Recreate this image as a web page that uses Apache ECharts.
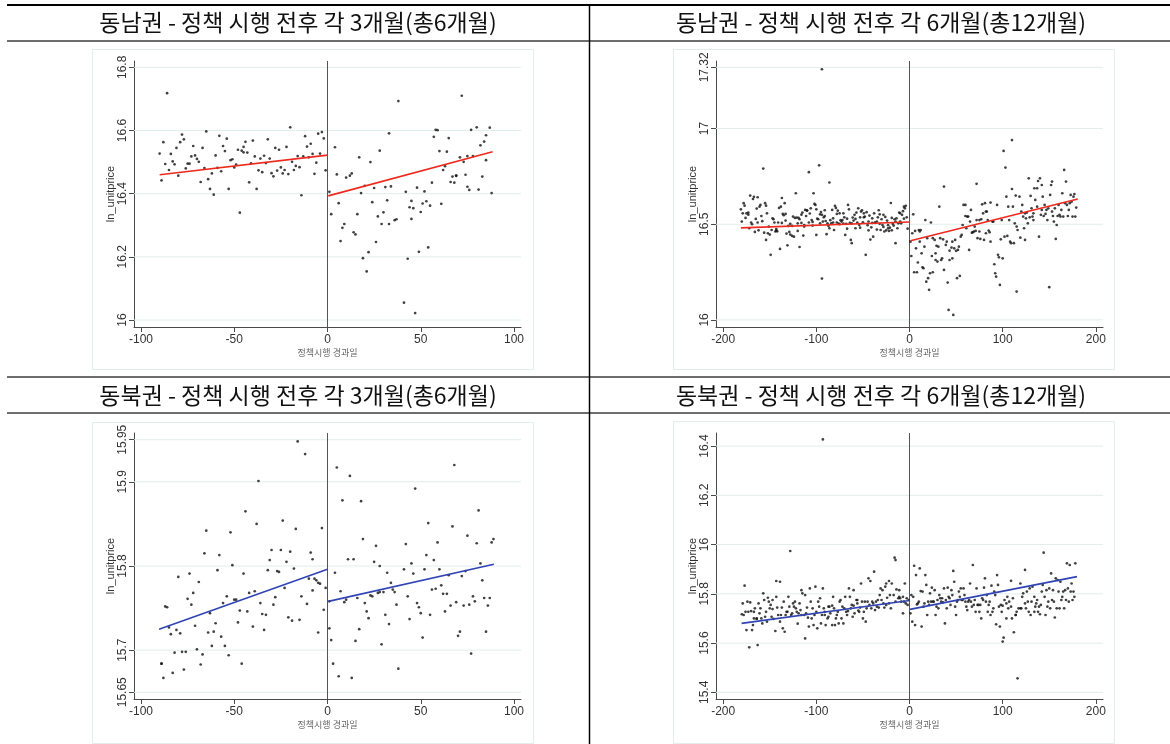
<!DOCTYPE html>
<html><head><meta charset="utf-8">
<script src="https://cdn.jsdelivr.net/npm/echarts@6/dist/echarts.min.js"></script>
<style>html,body{margin:0;padding:0;background:#fff}#c{width:1170px;height:744px}</style>
</head><body><div id="c"></div>
<script>
const panelTitles = ['동남권 - 정책 시행 전후 각 3개월(총6개월)','동남권 - 정책 시행 전후 각 6개월(총12개월)','동북권 - 정책 시행 전후 각 3개월(총6개월)','동북권 - 정책 시행 전후 각 6개월(총12개월)'];
const xAxisName = '정책시행 경과일';
const yAxisName = 'ln_unitprice';
const xTicks3m = [-100,-50,0,50,100];
const xTicks6m = [-200,-100,0,100,200];
const yTicksSE3 = [16,16.2,16.4,16.6,16.8];
const yTicksSE6 = [16,16.5,17,17.32];
const yTicksNE3 = [15.65,15.7,15.8,15.9,15.95];
const yTicksNE6 = [15.4,15.6,15.8,16,16.2,16.4];

const southeast3Pre = [[-90,16.527],[-89,16.442],[-88,16.563],[-87,16.494],[-86,16.718],[-85,16.475],[-84,16.526],[-83,16.502],[-82,16.493],[-81,16.545],[-80,16.457],[-79,16.563],[-78,16.587],[-77,16.572],[-76,16.480],[-75,16.495],[-74,16.495],[-73,16.518],[-72,16.551],[-71,16.521],[-70,16.510],[-69,16.501],[-68,16.437],[-67,16.545],[-66,16.481],[-65,16.597],[-64,16.446],[-63,16.415],[-62,16.464],[-61,16.397],[-60,16.521],[-59,16.482],[-58,16.583],[-57,16.471],[-56,16.551],[-55,16.535],[-54,16.574],[-53,16.415],[-52,16.506],[-51,16.509],[-50,16.483],[-49,16.492],[-48,16.539],[-47,16.340],[-46,16.536],[-45,16.548],[-45,16.531],[-44,16.564],[-43,16.530],[-42,16.436],[-41,16.496],[-40,16.568],[-39,16.518],[-38,16.415],[-37,16.474],[-36,16.511],[-35,16.468],[-34,16.520],[-33,16.497],[-32,16.572],[-31,16.511],[-30,16.465],[-29,16.455],[-28,16.545],[-27,16.473],[-26,16.539],[-25,16.483],[-24,16.464],[-23,16.475],[-22,16.548],[-21,16.462],[-20,16.610],[-19,16.501],[-18,16.475],[-17,16.488],[-16,16.519],[-15,16.484],[-14,16.395],[-13,16.518],[-12,16.582],[-11,16.549],[-10,16.515],[-9,16.558],[-8,16.526],[-7,16.463],[-6,16.498],[-5,16.590],[-4,16.527],[-3,16.595],[-2,16.575],[-1,16.474]];
const southeast3Post = [[1,16.406],[2,16.335],[4,16.547],[5,16.461],[6,16.370],[7,16.250],[8,16.292],[9,16.304],[10,16.451],[12,16.457],[13,16.464],[14,16.278],[15,16.271],[16,16.335],[17,16.515],[18,16.402],[19,16.196],[20,16.425],[21,16.154],[22,16.215],[23,16.500],[24,16.373],[25,16.418],[26,16.247],[27,16.328],[28,16.536],[29,16.304],[30,16.341],[31,16.421],[32,16.379],[33,16.591],[33,16.304],[34,16.423],[36,16.316],[37,16.319],[38,16.693],[41,16.055],[42,16.406],[43,16.194],[44,16.357],[45,16.377],[45,16.320],[46,16.354],[47,16.022],[48,16.419],[49,16.216],[50,16.342],[51,16.369],[52,16.407],[53,16.376],[54,16.230],[55,16.362],[56,16.435],[57,16.580],[58,16.602],[59,16.601],[60,16.535],[61,16.368],[62,16.475],[63,16.487],[64,16.533],[65,16.576],[66,16.437],[67,16.454],[68,16.435],[69,16.456],[69,16.458],[71,16.515],[72,16.710],[73,16.501],[74,16.460],[75,16.422],[75,16.519],[76,16.412],[77,16.602],[78,16.519],[80,16.610],[81,16.413],[82,16.553],[83,16.454],[84,16.565],[85,16.506],[85,16.585],[87,16.609],[88,16.402]];
const southeast6Pre = [[-181,16.578],[-180,16.514],[-179,16.557],[-178,16.610],[-177,16.597],[-176,16.533],[-175,16.557],[-173,16.550],[-173,16.561],[-172,16.479],[-171,16.650],[-170,16.509],[-169,16.500],[-168,16.632],[-167,16.643],[-166,16.460],[-165,16.528],[-164,16.582],[-163,16.641],[-163,16.509],[-162,16.468],[-161,16.592],[-160,16.601],[-159,16.543],[-158,16.516],[-157,16.791],[-156,16.456],[-155,16.610],[-154,16.418],[-154,16.597],[-153,16.557],[-152,16.453],[-151,16.488],[-150,16.446],[-149,16.340],[-148,16.470],[-147,16.531],[-146,16.526],[-145,16.509],[-144,16.462],[-143,16.475],[-143,16.467],[-142,16.463],[-141,16.509],[-140,16.585],[-139,16.371],[-138,16.592],[-137,16.507],[-137,16.637],[-136,16.554],[-135,16.547],[-134,16.610],[-133,16.554],[-133,16.519],[-132,16.451],[-131,16.390],[-130,16.491],[-129,16.460],[-128,16.502],[-128,16.446],[-126,16.491],[-126,16.439],[-125,16.540],[-124,16.435],[-123,16.533],[-122,16.662],[-121,16.535],[-120,16.505],[-120,16.465],[-119,16.533],[-118,16.381],[-118,16.526],[-116,16.507],[-116,16.550],[-115,16.561],[-114,16.441],[-113,16.496],[-113,16.488],[-112,16.575],[-111,16.543],[-110,16.571],[-110,16.573],[-108,16.772],[-108,16.509],[-107,16.556],[-106,16.583],[-105,16.522],[-104,16.493],[-104,16.512],[-103,16.662],[-102,16.606],[-101,16.601],[-100,16.444],[-100,16.578],[-99,16.529],[-98,16.526],[-97,16.808],[-96,16.552],[-96,16.505],[-95,16.564],[-94,16.549],[-94,16.216],[-93,16.514],[-92,16.536],[-91,16.573],[-91,16.543],[-90,16.517],[-89,16.448],[-88,16.505],[-87,16.491],[-86,16.718],[-86,16.479],[-85,16.521],[-84,16.505],[-83,16.575],[-82,16.509],[-82,16.531],[-81,16.470],[-80,16.596],[-79,16.585],[-78,16.554],[-78,16.509],[-77,16.571],[-76,16.503],[-75,16.500],[-75,16.557],[-74,16.521],[-73,16.514],[-72,16.522],[-71,16.503],[-71,16.557],[-70,16.536],[-69,16.444],[-68,16.502],[-67,16.477],[-67,16.529],[-66,16.601],[-65,16.578],[-64,16.507],[-63,16.418],[-62,16.401],[-62,16.505],[-61,16.535],[-60,16.519],[-59,16.549],[-58,16.479],[-58,16.528],[-57,16.561],[-56,16.509],[-55,16.583],[-54,16.496],[-53,16.482],[-53,16.536],[-52,16.566],[-51,16.573],[-50,16.510],[-49,16.536],[-49,16.557],[-48,16.540],[-47,16.340],[-46,16.563],[-45,16.495],[-44,16.468],[-44,16.514],[-43,16.545],[-42,16.420],[-41,16.484],[-40,16.531],[-40,16.507],[-39,16.435],[-38,16.557],[-37,16.507],[-37,16.509],[-35,16.472],[-35,16.514],[-34,16.536],[-33,16.573],[-32,16.502],[-32,16.552],[-31,16.470],[-30,16.526],[-29,16.496],[-28,16.549],[-28,16.486],[-27,16.462],[-26,16.538],[-25,16.468],[-24,16.519],[-23,16.495],[-23,16.479],[-22,16.465],[-21,16.482],[-20,16.611],[-19,16.468],[-19,16.533],[-18,16.503],[-17,16.493],[-16,16.526],[-15,16.514],[-15,16.401],[-14,16.531],[-13,16.479],[-12,16.505],[-11,16.561],[-10,16.557],[-10,16.514],[-9,16.505],[-8,16.549],[-7,16.568],[-6,16.592],[-6,16.529],[-5,16.583],[-4,16.596],[-3,16.536],[-2,16.477],[-94,17.310]];
const southeast6Post = [[1,16.409],[2,16.334],[3,16.453],[4,16.552],[5,16.249],[6,16.465],[7,16.374],[8,16.249],[9,16.300],[10,16.470],[11,16.409],[11,16.462],[12,16.470],[13,16.348],[14,16.275],[15,16.270],[16,16.383],[17,16.522],[18,16.200],[19,16.427],[20,16.218],[21,16.157],[22,16.244],[23,16.509],[24,16.334],[25,16.427],[25,16.249],[27,16.418],[28,16.348],[28,16.313],[29,16.387],[30,16.305],[31,16.383],[32,16.592],[33,16.427],[34,16.313],[35,16.322],[36,16.421],[37,16.697],[37,16.261],[39,16.392],[40,16.409],[41,16.195],[42,16.052],[43,16.313],[43,16.362],[45,16.378],[46,16.409],[46,16.322],[47,16.026],[48,16.374],[49,16.418],[50,16.361],[51,16.218],[52,16.366],[53,16.383],[54,16.230],[55,16.435],[56,16.444],[57,16.496],[58,16.601],[60,16.601],[60,16.543],[61,16.479],[62,16.540],[63,16.540],[64,16.366],[65,16.514],[66,16.575],[67,16.456],[68,16.458],[69,16.462],[70,16.488],[71,16.465],[72,16.711],[72,16.522],[73,16.427],[75,16.462],[75,16.522],[76,16.423],[77,16.526],[78,16.604],[79,16.557],[80,16.418],[81,16.610],[82,16.453],[82,16.566],[83,16.566],[84,16.522],[85,16.467],[86,16.458],[87,16.613],[87,16.409],[89,16.514],[90,16.514],[91,16.291],[92,16.244],[93,16.226],[94,16.601],[95,16.340],[96,16.327],[97,16.183],[98,16.421],[99,16.522],[100,16.322],[101,16.883],[102,16.435],[103,16.796],[104,16.644],[105,16.439],[106,16.592],[107,16.522],[108,16.409],[109,16.401],[110,16.684],[111,16.592],[112,16.401],[113,16.505],[114,16.650],[115,16.488],[115,16.148],[116,16.470],[110,16.940],[118,16.644],[119,16.430],[120,16.566],[121,16.601],[122,16.540],[123,16.479],[124,16.418],[124,16.557],[125,16.531],[126,16.561],[127,16.505],[128,16.740],[129,16.536],[130,16.648],[131,16.583],[132,16.540],[133,16.522],[133,16.557],[134,16.688],[135,16.627],[137,16.688],[137,16.592],[138,16.726],[139,16.435],[140,16.740],[141,16.549],[142,16.575],[142,16.705],[143,16.644],[144,16.543],[145,16.601],[146,16.554],[147,16.575],[148,16.522],[149,16.583],[150,16.171],[151,16.653],[152,16.705],[153,16.723],[153,16.566],[154,16.543],[155,16.514],[156,16.583],[157,16.423],[158,16.496],[159,16.543],[160,16.601],[161,16.549],[162,16.540],[163,16.575],[164,16.662],[165,16.540],[166,16.784],[167,16.610],[168,16.723],[169,16.601],[170,16.543],[171,16.575],[172,16.610],[173,16.653],[174,16.618],[175,16.540],[176,16.644],[177,16.658],[178,16.540],[179,16.587]];
const northeast3Pre = [[-89,15.684],[-89,15.684],[-88,15.667],[-87,15.752],[-86,15.751],[-85,15.727],[-84,15.719],[-83,15.673],[-82,15.697],[-81,15.724],[-80,15.787],[-79,15.720],[-78,15.698],[-77,15.677],[-76,15.698],[-75,15.761],[-74,15.791],[-73,15.754],[-72,15.768],[-71,15.729],[-70,15.701],[-69,15.781],[-68,15.683],[-67,15.695],[-66,15.815],[-65,15.842],[-64,15.721],[-63,15.744],[-62,15.705],[-61,15.722],[-60,15.732],[-59,15.795],[-58,15.813],[-57,15.716],[-56,15.756],[-55,15.705],[-54,15.764],[-53,15.694],[-52,15.840],[-51,15.801],[-50,15.760],[-49,15.760],[-48,15.733],[-47,15.747],[-46,15.684],[-45,15.791],[-44,15.865],[-43,15.746],[-42,15.768],[-40,15.728],[-39,15.770],[-38,15.850],[-37,15.901],[-36,15.756],[-35,15.743],[-34,15.724],[-33,15.742],[-32,15.795],[-31,15.807],[-30,15.819],[-29,15.754],[-28,15.763],[-27,15.794],[-26,15.793],[-25,15.819],[-24,15.854],[-23,15.774],[-22,15.805],[-21,15.739],[-20,15.817],[-19,15.735],[-18,15.797],[-17,15.844],[-15,15.736],[-14,15.764],[-16,15.948],[-12,15.933],[-11,15.755],[-10,15.785],[-9,15.816],[-8,15.808],[-8,15.771],[-7,15.785],[-6,15.783],[-5,15.780],[-4,15.779],[-3,15.845],[-2,15.748],[-1,15.774],[-5,15.721]];
const northeast3Post = [[1,15.726],[1,15.758],[2,15.712],[3,15.684],[4,15.792],[5,15.917],[6,15.669],[7,15.770],[8,15.878],[9,15.757],[10,15.760],[11,15.808],[12,15.907],[13,15.667],[14,15.808],[15,15.711],[16,15.762],[17,15.725],[18,15.877],[19,15.832],[20,15.756],[21,15.746],[22,15.738],[23,15.765],[24,15.764],[25,15.805],[26,15.824],[27,15.768],[28,15.800],[28,15.769],[29,15.707],[30,15.769],[31,15.742],[32,15.792],[33,15.731],[34,15.780],[35,15.772],[36,15.769],[37,15.754],[38,15.678],[41,15.796],[42,15.826],[43,15.764],[44,15.737],[45,15.803],[46,15.791],[47,15.892],[48,15.756],[49,15.751],[50,15.744],[51,15.715],[52,15.796],[53,15.813],[54,15.851],[55,15.742],[56,15.772],[57,15.807],[58,15.773],[59,15.828],[60,15.796],[61,15.777],[62,15.767],[63,15.746],[64,15.767],[65,15.789],[66,15.753],[67,15.847],[68,15.920],[69,15.757],[70,15.717],[71,15.722],[72,15.788],[73,15.753],[74,15.794],[75,15.836],[76,15.754],[77,15.696],[78,15.764],[79,15.758],[80,15.827],[81,15.866],[82,15.803],[83,15.783],[84,15.762],[85,15.722],[86,15.753],[87,15.762],[88,15.828],[89,15.832]];
const northeast6Pre = [[-180,15.717],[-179,15.761],[-178,15.714],[-177,15.833],[-176,15.727],[-175,15.653],[-174,15.768],[-173,15.727],[-172,15.583],[-171,15.765],[-170,15.730],[-169,15.653],[-168,15.673],[-167,15.700],[-167,15.727],[-166,15.741],[-164,15.700],[-164,15.698],[-163,15.592],[-162,15.761],[-161,15.721],[-160,15.741],[-159,15.700],[-158,15.680],[-157,15.802],[-156,15.775],[-155,15.707],[-154,15.727],[-153,15.687],[-152,15.784],[-151,15.768],[-150,15.741],[-149,15.755],[-148,15.707],[-147,15.775],[-147,15.738],[-146,15.698],[-144,15.649],[-143,15.788],[-143,15.852],[-142,15.744],[-141,15.714],[-139,15.849],[-139,15.687],[-138,15.714],[-137,15.744],[-136,15.660],[-135,15.768],[-134,15.646],[-133,15.714],[-132,15.727],[-131,15.727],[-130,15.788],[-129,15.748],[-128,15.974],[-127,15.714],[-126,15.721],[-125,15.761],[-124,15.748],[-123,15.768],[-122,15.741],[-121,15.727],[-120,15.679],[-119,15.721],[-118,15.761],[-117,15.734],[-116,15.714],[-116,15.815],[-115,15.802],[-113,15.714],[-112,15.619],[-112,15.795],[-111,15.721],[-110,15.744],[-109,15.703],[-108,15.667],[-107,15.822],[-106,15.768],[-105,15.700],[-104,15.741],[-103,15.673],[-102,15.714],[-101,15.829],[-100,15.727],[-99,15.660],[-98,15.768],[-97,15.748],[-96,15.782],[-95,15.680],[-94,15.714],[-93,15.822],[-92,15.741],[-91,15.727],[-91,15.714],[-90,15.673],[-88,15.700],[-87,15.748],[-87,15.707],[-86,15.748],[-85,15.721],[-83,15.673],[-83,15.752],[-82,15.788],[-81,15.741],[-80,15.673],[-79,15.700],[-78,15.714],[-77,15.727],[-76,15.680],[-75,15.768],[-74,15.775],[-73,15.700],[-72,15.748],[-71,15.680],[-70,15.741],[-69,15.788],[-68,15.727],[-67,15.714],[-66,15.730],[-65,15.822],[-64,15.788],[-63,15.741],[-62,15.755],[-61,15.707],[-60,15.815],[-60,15.752],[-59,15.721],[-57,15.775],[-56,15.761],[-56,15.775],[-55,15.732],[-54,15.727],[-53,15.744],[-52,15.842],[-51,15.768],[-50,15.700],[-49,15.727],[-48,15.768],[-47,15.687],[-46,15.741],[-45,15.768],[-44,15.863],[-43,15.755],[-42,15.852],[-41,15.741],[-40,15.768],[-39,15.761],[-38,15.890],[-37,15.734],[-36,15.768],[-35,15.748],[-34,15.775],[-33,15.744],[-32,15.795],[-31,15.822],[-30,15.775],[-29,15.815],[-28,15.761],[-27,15.744],[-26,15.829],[-25,15.755],[-25,15.842],[-24,15.784],[-22,15.852],[-22,15.761],[-21,15.795],[-20,15.741],[-19,15.842],[-17,15.795],[-16,15.947],[-15,15.937],[-15,15.768],[-14,15.818],[-12,15.782],[-11,15.815],[-11,15.788],[-10,15.782],[-9,15.768],[-7,15.721],[-7,15.788],[-6,15.768],[-5,15.842],[-4,15.761],[-3,15.782],[-2,15.755],[-1,15.775],[-93,16.427]];
const northeast6Post = [[1,15.721],[2,15.795],[3,15.687],[4,15.788],[5,15.914],[6,15.673],[7,15.876],[8,15.757],[9,15.761],[10,15.768],[11,15.903],[12,15.811],[13,15.667],[14,15.809],[15,15.748],[16,15.761],[17,15.876],[18,15.836],[19,15.714],[20,15.768],[21,15.755],[22,15.802],[23,15.768],[24,15.825],[25,15.768],[26,15.768],[27,15.815],[28,15.714],[29,15.748],[30,15.775],[31,15.741],[32,15.795],[33,15.782],[34,15.768],[35,15.782],[36,15.765],[37,15.822],[38,15.680],[39,15.775],[40,15.741],[41,15.825],[42,15.788],[43,15.782],[44,15.755],[45,15.815],[46,15.795],[47,15.893],[48,15.849],[49,15.748],[50,15.714],[51,15.768],[52,15.775],[53,15.809],[54,15.788],[55,15.822],[56,15.775],[57,15.775],[58,15.822],[59,15.795],[60,15.768],[61,15.748],[62,15.734],[63,15.768],[64,15.775],[65,15.842],[66,15.768],[67,15.748],[68,15.917],[69,15.755],[70,15.775],[71,15.727],[72,15.822],[73,15.755],[74,15.755],[75,15.727],[76,15.755],[77,15.700],[78,15.782],[79,15.775],[80,15.825],[81,15.863],[82,15.768],[83,15.795],[84,15.727],[85,15.755],[86,15.768],[87,15.714],[88,15.833],[89,15.727],[90,15.741],[91,15.809],[92,15.795],[93,15.676],[94,15.876],[95,15.836],[96,15.748],[97,15.667],[98,15.755],[99,15.727],[100,15.752],[100,15.606],[101,15.622],[102,15.775],[104,15.761],[104,15.700],[105,15.788],[106,15.741],[107,15.768],[109,15.748],[109,15.853],[110,15.700],[111,15.782],[112,15.644],[114,15.714],[114,15.714],[115,15.727],[116,15.457],[117,15.741],[119,15.741],[119,15.842],[120,15.741],[121,15.788],[122,15.802],[124,15.897],[124,15.761],[125,15.741],[126,15.809],[127,15.768],[128,15.727],[129,15.822],[130,15.714],[131,15.768],[132,15.829],[134,15.727],[134,15.788],[135,15.748],[136,15.761],[137,15.775],[138,15.727],[139,15.748],[140,15.717],[141,15.755],[142,15.809],[143,15.836],[144,15.967],[145,15.788],[146,15.714],[147,15.815],[148,15.748],[149,15.768],[150,15.822],[151,15.741],[152,15.883],[153,15.775],[154,15.815],[155,15.768],[156,15.704],[157,15.863],[158,15.741],[159,15.856],[160,15.809],[161,15.741],[162,15.849],[163,15.775],[164,15.788],[165,15.809],[166,15.741],[167,15.815],[168,15.775],[169,15.924],[170,15.822],[171,15.768],[172,15.917],[173,15.809],[174,15.842],[175,15.775],[176,15.809],[177,15.788],[178,15.924]];

const southeast3FitPre = [[-90,16.460],[0,16.522]];
const southeast3FitPost = [[0.4,16.393],[88.5,16.533]];
const southeast6FitPre = [[-181,16.481],[0,16.512]];
const southeast6FitPost = [[1,16.414],[180.6,16.632]];
const northeast3FitPre = [[-90.3,15.725],[0,15.796]];
const northeast3FitPost = [[0.5,15.758],[89.2,15.802]];
const northeast6FitPre = [[-180.2,15.680],[0,15.773]];
const northeast6FitPost = [[0.5,15.737],[179.8,15.870]];

const RED = '#ee2a1e', BLUE = '#3044b4';
const panels = [
  {grid:{left:134,top:61,width:387,height:266}, box:[92,49,441,320], xr:[-103.75,103.75], yr:[15.978,16.820], xt:xTicks3m, yt:yTicksSE3, pre:southeast3Pre, post:southeast3Post, fitPre:southeast3FitPre, fitPost:southeast3FitPost, color:RED},
  {grid:{left:716,top:61,width:387,height:266}, box:[673,49,441,320], xr:[-207.7,207.7], yr:[15.963,17.353], xt:xTicks6m, yt:yTicksSE6, pre:southeast6Pre, post:southeast6Post, fitPre:southeast6FitPre, fitPost:southeast6FitPost, color:RED},
  {grid:{left:134,top:433,width:387,height:266}, box:[92,422,441,321], xr:[-103.75,103.75], yr:[15.642,15.958], xt:xTicks3m, yt:yTicksNE3, pre:northeast3Pre, post:northeast3Post, fitPre:northeast3FitPre, fitPost:northeast3FitPost, color:BLUE},
  {grid:{left:716,top:433,width:387,height:266}, box:[673,421,441,322], xr:[-207.7,207.7], yr:[15.373,16.453], xt:xTicks6m, yt:yTicksNE6, pre:northeast6Pre, post:northeast6Post, fitPre:northeast6FitPre, fitPost:northeast6FitPost, color:BLUE}
];

const AXIS = '#4a4a4a';
const option = {animation:false, backgroundColor:'#fff', grid:[], xAxis:[], yAxis:[], series:[], graphic:[]};
panels.forEach((p,i)=>{
  option.grid.push(p.grid);
  option.xAxis.push({gridIndex:i,type:'value',min:p.xr[0],max:p.xr[1],
    axisLine:{show:true,onZero:false,lineStyle:{color:AXIS,width:1}},
    axisTick:{show:true,customValues:p.xt,length:5,lineStyle:{color:AXIS}},
    axisLabel:{customValues:p.xt,color:'#333',fontSize:12,fontFamily:'Liberation Sans, Arial, sans-serif',margin:7},
    splitLine:{show:false},
    name:xAxisName,nameLocation:'middle',nameGap:21,
    nameTextStyle:{color:'#666',fontSize:9,fontFamily:'Noto Sans CJK KR'}});
  option.yAxis.push({gridIndex:i,type:'value',min:p.yr[0],max:p.yr[1],
    axisLine:{show:true,onZero:false,lineStyle:{color:AXIS,width:1}},
    axisTick:{show:true,customValues:p.yt,length:5,lineStyle:{color:AXIS}},
    axisLabel:{customValues:p.yt,rotate:90,color:'#333',fontSize:12,fontFamily:'Liberation Sans, Arial, sans-serif',margin:5},
    splitLine:{show:false},
    name:yAxisName,nameLocation:'middle',nameGap:18,nameRotate:90,
    nameTextStyle:{color:'#333',fontSize:11,fontFamily:'Liberation Sans, Arial, sans-serif'}});
  p.yt.forEach(v=>option.series.push({type:'line',xAxisIndex:i,yAxisIndex:i,data:[[p.xr[0],v],[p.xr[1],v]],symbol:'none',silent:true,z:1,lineStyle:{color:'#e2eded',width:1}}));
  option.series.push({type:'line',xAxisIndex:i,yAxisIndex:i,data:[[0,p.yr[0]],[0,p.yr[1]]],symbol:'none',silent:true,z:2,lineStyle:{color:'#555',width:1}});
  [p.pre,p.post].forEach(d=>option.series.push({type:'scatter',xAxisIndex:i,yAxisIndex:i,data:d,symbol:'circle',symbolSize:2.7,itemStyle:{color:'#111'},silent:true,z:3}));
  [p.fitPre,p.fitPost].forEach(d=>option.series.push({type:'line',xAxisIndex:i,yAxisIndex:i,data:d,symbol:'none',silent:true,z:4,lineStyle:{color:p.color,width:1.6}}));
  option.graphic.push({type:'rect',silent:true,z:0,shape:{x:p.box[0]+0.5,y:p.box[1]+0.5,width:p.box[2],height:p.box[3]},style:{fill:'none',stroke:'#e3eded',lineWidth:1}});
});
// table frame
const hLines = [[5,'#000'],[41,'#6e6e6e'],[377,'#6e6e6e'],[413,'#6e6e6e']];
hLines.forEach(h=>option.graphic.push({type:'line',silent:true,shape:{x1:7,y1:h[0],x2:1170,y2:h[0]},style:{stroke:h[1],lineWidth:2}}));
option.graphic.push({type:'line',silent:true,shape:{x1:589.5,y1:4,x2:589.5,y2:744},style:{stroke:'#000',lineWidth:1.5}});
const titlePos = [[298,22],[881,22],[298,395],[881,395]];
panelTitles.forEach((t,i)=>option.graphic.push({type:'text',silent:true,x:titlePos[i][0],y:titlePos[i][1],
  style:{text:t,font:'23px "Noto Sans CJK KR"',fill:'#111',textAlign:'center',textVerticalAlign:'middle'}}));

const chart = echarts.init(document.getElementById('c'),null,{renderer:'canvas'});
chart.setOption(option);
</script></body></html>
